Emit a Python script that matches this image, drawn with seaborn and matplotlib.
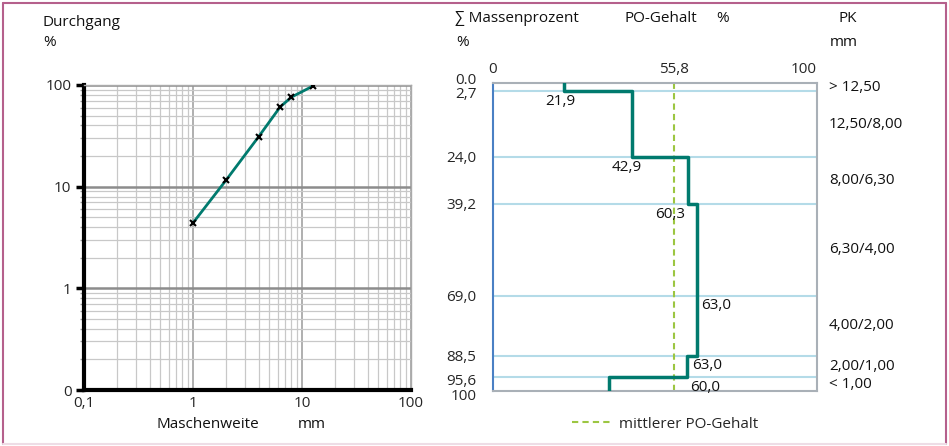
import numpy as np
import pandas as pd
import matplotlib
matplotlib.use("Agg")
import matplotlib.pyplot as plt
import matplotlib.ticker as mticker
from matplotlib.lines import Line2D
from matplotlib.transforms import blended_transform_factory, ScaledTranslation
import seaborn as sns

sns.set_theme(style="white")
plt.rcParams['font.family'] = ['Open Sans', 'DejaVu Sans']

# ---- data: left chart (sieve curve) ----
mesh_mm = [1, 2, 4, 6.3, 8, 12.5]
passing_pct = [4.4, 11.5, 31.0, 60.8, 76.0, 97.3]
left_xticks = [0.1, 1, 10, 100]
left_xticklabels = ["0,1", "1", "10", "100"]
left_yticks = [0.1, 1, 10, 100]
left_yticklabels = ["0", "1", "10", "100"]

# ---- data: right chart (PO content per class) ----
cum_mass = [0.0, 2.7, 24.0, 39.2, 69.0, 88.5, 95.6, 100.0]
cum_labels = ["0.0", "2,7", "24,0", "39,2", "69,0", "88,5", "95,6", "100"]
po_content = [21.9, 42.9, 60.3, 63.0, 63.0, 60.0, 35.8]
po_labels = ["21,9", "42,9", "60,3", "63,0", "63,0", "60,0", ""]
po_mean = 55.8
pk_classes = ["> 12,50", "12,50/8,00", "8,00/6,30", "6,30/4,00",
              "4,00/2,00", "2,00/1,00", "< 1,00"]
top_ticks = [0, 55.8, 100]
top_ticklabels = ["0", "55,8", "100"]

TEAL = "#007a6e"
W, H = 949, 446
fig = plt.figure(figsize=(W / 100, H / 100), dpi=100)

def fx(px):
    return px / W

def fy(py):
    return 1 - py / H

FS = 11

# ---------------- left chart ----------------
axL = fig.add_axes([fx(84), fy(390), fx(411 - 84), (390 - 85) / H])
dfL = pd.DataFrame({"mesh": mesh_mm, "passing": passing_pct})
sns.lineplot(data=dfL, x="mesh", y="passing", ax=axL, color=TEAL, lw=2,
             marker="x", markersize=5, markeredgecolor="black",
             markeredgewidth=1.5, zorder=5)
axL.set_xscale("log")
axL.set_yscale("log")
axL.set_xlim(0.1, 100)
axL.set_ylim(0.1, 100)
axL.set_xticks(left_xticks)
axL.set_xticklabels(left_xticklabels)
axL.set_yticks(left_yticks)
axL.set_yticklabels(left_yticklabels)
axL.xaxis.set_minor_locator(mticker.LogLocator(base=10, subs=np.arange(2, 10)))
axL.yaxis.set_minor_locator(mticker.LogLocator(base=10, subs=np.arange(2, 10)))
axL.xaxis.set_minor_formatter(mticker.NullFormatter())
axL.yaxis.set_minor_formatter(mticker.NullFormatter())
axL.grid(True, which="minor", color="#c8c8c8", lw=0.9)
axL.grid(True, which="major", axis="x", color="#9a9a9a", lw=1.1)
axL.grid(True, which="major", axis="y", color="#8c8c8c", lw=1.8)
axL.set_axisbelow(True)
axL.tick_params(axis="y", which="major", direction="out", length=6, width=2.5,
                color="black", labelsize=FS, pad=3, left=True)
axL.tick_params(axis="y", which="minor", direction="out", length=3, width=1,
                color="#999999", left=True)
axL.tick_params(axis="x", which="both", length=0, labelsize=FS, pad=4)
for s in ["left", "bottom"]:
    axL.spines[s].set_color("black")
    axL.spines[s].set_linewidth(3)
for s in ["top", "right"]:
    axL.spines[s].set_color("#aaaaaa")
    axL.spines[s].set_linewidth(1)
axL.set_xlabel("")
axL.set_ylabel("")

# ---------------- right chart ----------------
axR = fig.add_axes([fx(493), fy(391), fx(817 - 493), (391 - 83) / H])
xs, ys = [], []
for i, v in enumerate(po_content):
    xs += [v, v]
    ys += [cum_mass[i], cum_mass[i + 1]]
dfR = pd.DataFrame({"po": xs, "mass": ys})
for b in cum_mass[1:-1]:
    axR.axhline(b, color="#b4dbe8", lw=1.5, zorder=1)
axR.axvline(po_mean, color="#9cc641", lw=1.5, ls=(0, (3, 2)), zorder=2)
sns.lineplot(data=dfR, x="po", y="mass", ax=axR, sort=False, orient="y",
             color=TEAL, lw=2.5, zorder=4, estimator=None)
axR.set_xlim(0, 100)
axR.set_ylim(100, 0)
axR.set_xlabel("")
axR.set_ylabel("")
axR.xaxis.tick_top()
axR.set_xticks(top_ticks)
axR.set_xticklabels(top_ticklabels)
axR.get_xticklabels()[-1].set_horizontalalignment("right")
axR.set_yticks(cum_mass)
axR.set_yticklabels(cum_labels)
axR.tick_params(axis="x", length=0, labelsize=FS, pad=4)
axR.tick_params(axis="y", length=0, labelsize=FS, pad=12)
# small vertical nudges of crowded labels (pixels, + = down)
nudges = {0: -4, 1: 1, 6: 2, 7: 4}
for i, lbl in enumerate(axR.get_yticklabels()):
    if i in nudges:
        lbl.set_transform(lbl.get_transform() +
                          ScaledTranslation(0, -nudges[i] / 100, fig.dpi_scale_trans))
for s in ["top", "right", "bottom"]:
    axR.spines[s].set_color("#a9b0b7")
    axR.spines[s].set_linewidth(1.5)
axR.spines["left"].set_color("#4a80c4")
axR.spines["left"].set_linewidth(1.5)

# value labels below each class boundary
label_dx = [-1.2, -1.5, -5.5, 6.0, 3.0, 5.5, 0]
for i, t in enumerate(po_labels):
    if t:
        axR.annotate(t, xy=(po_content[i] + label_dx[i], cum_mass[i + 1]),
                     xytext=(0, -2), textcoords="offset points",
                     ha="center", va="top", fontsize=FS, color="#111111")

# PK class labels on the right
tr = blended_transform_factory(axR.transAxes, axR.transData)
for i, t in enumerate(pk_classes):
    mid = (cum_mass[i] + cum_mass[i + 1]) / 2
    axR.text(1.037, mid, t, transform=tr, ha="left", va="center",
             fontsize=FS, color="#111111")

# legend
leg_handle = Line2D([0], [0], color="#9cc641", lw=1.5, ls=(0, (3, 2)))
fig.legend([leg_handle], ["mittlerer PO-Gehalt"], loc="center",
           bbox_to_anchor=(fx(665), fy(424)), frameon=False, fontsize=FS,
           handlelength=2.5, handletextpad=0.6)

# header / axis texts
def ftxt(px, py, s):
    fig.text(fx(px), fy(py), s, ha="left", va="center", fontsize=FS,
             color="#111111")

ftxt(43, 23, "Durchgang")
ftxt(43, 42, "%")
ftxt(156, 424, "Maschenweite")
ftxt(298, 424, "mm")
ftxt(455, 19, "∑ Massenprozent")
ftxt(456, 42, "%")
ftxt(624, 19, "PO-Gehalt")
ftxt(716, 19, "%")
ftxt(838, 19, "PK")
ftxt(830, 42, "mm")

# frame
border = "#b5608c"
fig.add_artist(Line2D([fx(3), fx(946)], [fy(2.5), fy(2.5)], color=border, lw=1.5))
fig.add_artist(Line2D([fx(3), fx(3)], [fy(2.5), fy(444)], color=border, lw=1.5))
fig.add_artist(Line2D([fx(946), fx(946)], [fy(2.5), fy(444)], color=border, lw=1.5))
fig.add_artist(Line2D([fx(3), fx(946)], [fy(444), fy(444)], color="#eedde6", lw=1.5))

fig.savefig("out.png", dpi=100)
